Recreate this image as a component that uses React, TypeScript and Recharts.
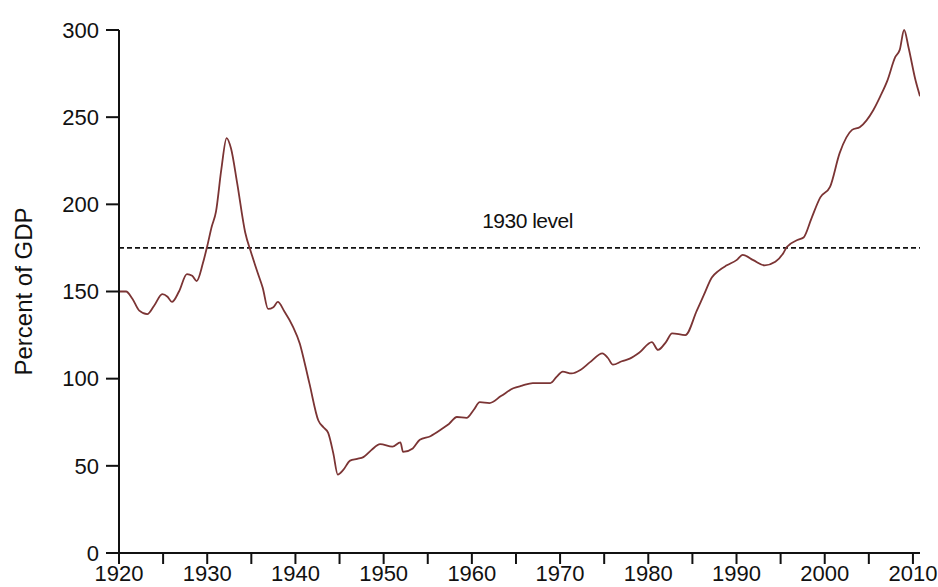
import React from "react";
import {
  LineChart,
  Line,
  XAxis,
  YAxis,
  ReferenceLine,
} from "recharts";

// debt as percent of GDP
const YEARS = [
  1920.0, 1920.8, 1921.5, 1922.3, 1923.2, 1924.0, 1924.9, 1925.5, 1926.0, 1926.8,
  1927.7, 1928.3, 1928.8, 1929.5, 1930.0, 1930.5, 1931.0, 1931.6, 1932.2, 1932.7,
  1933.4, 1934.3, 1935.0, 1935.7, 1936.3, 1936.9, 1937.5, 1938.0, 1938.7, 1939.7,
  1940.5, 1941.0, 1941.6, 1942.6, 1943.2, 1943.7, 1944.3, 1944.8, 1945.4, 1946.2,
  1947.0, 1947.7, 1948.6, 1949.6, 1951.0, 1951.9, 1952.2, 1953.3, 1954.1, 1955.3,
  1956.7, 1957.4, 1958.3, 1959.4, 1960.2, 1960.9, 1962.0, 1963.3, 1964.7, 1965.7,
  1966.9, 1968.9, 1969.6, 1970.3, 1971.3, 1972.3, 1973.4, 1974.8, 1975.4, 1976.0,
  1977.0, 1977.9, 1979.0, 1980.4, 1981.1, 1982.0, 1982.7, 1984.2, 1985.5, 1986.3,
  1987.2, 1988.0, 1988.9, 1990.0, 1990.7, 1991.9, 1993.2, 1994.4, 1995.3, 1995.7,
  1996.9, 1997.6, 1998.5, 1999.5, 2000.6, 2001.7, 2003.1, 2004.0, 2005.5, 2006.3,
  2007.1, 2008.0, 2008.5, 2009.0, 2009.5, 2010.3, 2010.8,
];

const DEBT = [
  150, 150, 146, 139, 137, 142, 148.5, 147, 144, 150,
  160, 159, 156, 166, 176, 187, 196, 220, 238, 232,
  212, 184, 172, 161, 152, 140, 141, 144, 139, 130,
  120, 110, 97, 76, 72, 69, 57, 45, 47.5, 53,
  54, 55, 59, 62.5, 61, 63.5, 58, 60, 65, 67,
  71.5, 74, 78, 77.5, 82, 86.5, 86, 90, 94.5, 96,
  97.5, 97.5, 101, 104, 103, 105, 109.5, 114.5, 112, 108,
  110, 111.5, 115, 121, 116.5, 121, 126, 125, 139, 148,
  158, 162, 165, 168, 171, 168, 165, 167, 172, 175.5,
  179.5, 181, 192, 204, 210, 229.5, 242.7, 244.4, 254, 262,
  271, 284.6, 288.6, 300, 290, 271, 262,
];

const X_TICKS = [
  1920, 1925, 1930, 1935, 1940, 1945, 1950, 1955, 1960, 1965,
  1970, 1975, 1980, 1985, 1990, 1995, 2000, 2005, 2010,
];
const Y_TICKS = [0, 50, 100, 150, 200, 250, 300];
const LEVEL_1930 = 175;

const data = YEARS.map((year, i) => ({ year, debt: DEBT[i] }));

const FONT = "'Liberation Sans', Arial, sans-serif";
const tickStyle = { fontSize: 22, fill: "#111", fontFamily: FONT };

export default function App() {
  return (
    <div style={{ position: "absolute", left: 0, top: 0, background: "#fff" }}>
      <LineChart
        width={938}
        height={587}
        data={data}
        margin={{ top: 30, right: 18, bottom: 4, left: 0 }}
      >
        <XAxis
          dataKey="year"
          type="number"
          domain={[1920, 2010.8]}
          allowDataOverflow
          ticks={X_TICKS}
          interval={0}
          tickFormatter={(v: number) => (v % 10 === 0 ? String(v) : "")}
          height={30}
          tickSize={11}
          tickMargin={1}
          tick={tickStyle}
          axisLine={{ stroke: "#111", strokeWidth: 2 }}
          tickLine={{ stroke: "#111", strokeWidth: 2 }}
        />
        <XAxis
          xAxisId="top"
          orientation="top"
          type="number"
          domain={[1920, 2010.8]}
          height={0}
          tick={false}
          tickLine={false}
          axisLine={{ stroke: "#111", strokeWidth: 2 }}
        />
        <YAxis
          type="number"
          domain={[0, 300]}
          ticks={Y_TICKS}
          interval={0}
          width={119}
          tickSize={13}
          tickMargin={7}
          tick={tickStyle}
          axisLine={{ stroke: "#111", strokeWidth: 2 }}
          tickLine={{ stroke: "#111", strokeWidth: 2 }}
          label={{
            value: "Percent of GDP",
            angle: -90,
            position: "insideLeft",
            offset: 23,
            textAnchor: "middle",
            style: { fontSize: 24, fill: "#111", fontFamily: FONT },
          }}
        />
        <YAxis
          yAxisId="right"
          orientation="right"
          type="number"
          domain={[0, 300]}
          width={0}
          tick={false}
          tickLine={false}
          axisLine={{ stroke: "#111", strokeWidth: 2 }}
        />
        <ReferenceLine
          y={LEVEL_1930}
          stroke="#111"
          strokeWidth={1.6}
          strokeDasharray="5 3"
          label={{
            value: "1930 level",
            position: "top",
            offset: 20,
            dx: 8,
            style: { fontSize: 21, fill: "#111", fontFamily: FONT, letterSpacing: -0.5 },
          }}
        />
        <Line
          type="monotone"
          dataKey="debt"
          stroke="#7b3434"
          strokeWidth={1.8}
          dot={false}
          isAnimationActive={false}
        />
      </LineChart>
    </div>
  );
}
